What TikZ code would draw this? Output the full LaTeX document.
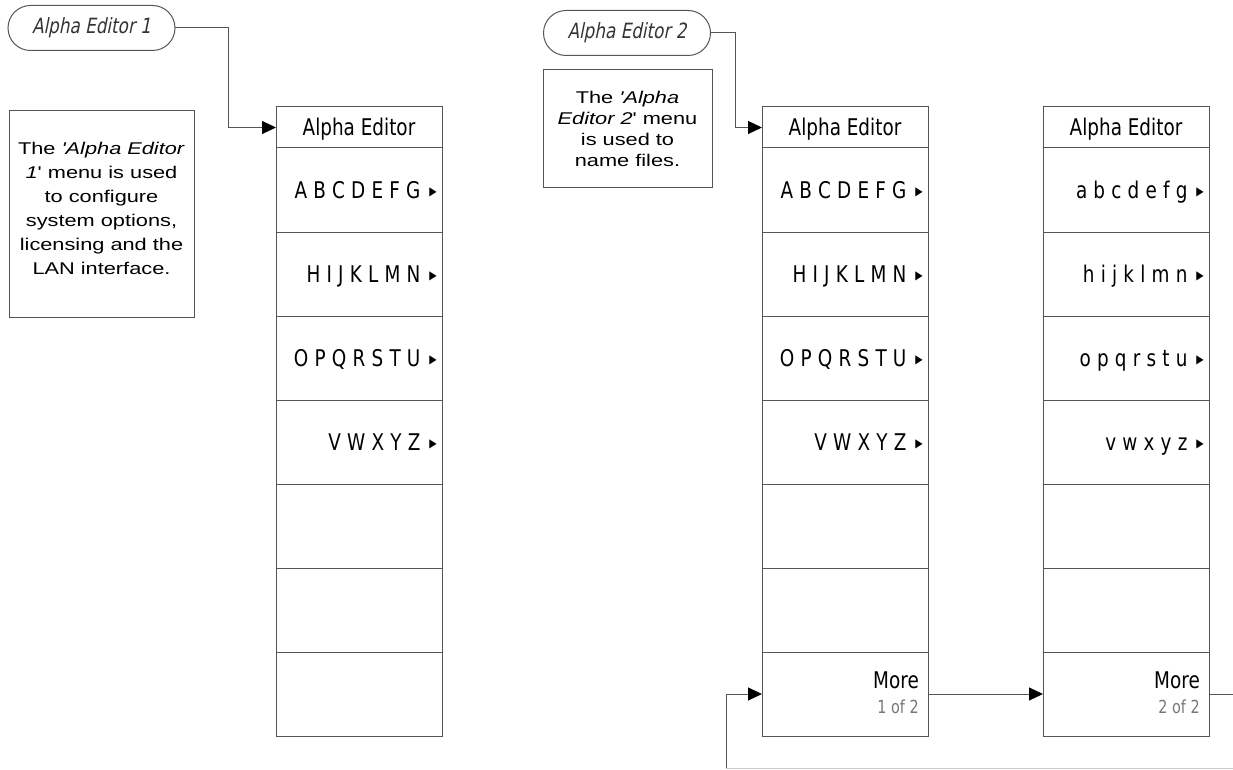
\documentclass[tikz,border=0pt]{standalone}
\usepackage{fontspec}
\setmainfont{Liberation Sans}
\newfontfamily\menufont{DejaVu Sans}[FakeStretch=0.8]
\newfontfamily\ovalfont{DejaVu Sans}[FakeStretch=0.8,FakeSlant=0.2]
\newfontfamily\boxfont{Liberation Sans}[FakeStretch=1.28]
\usetikzlibrary{arrows.meta}
\definecolor{ln}{HTML}{555555}
\definecolor{subtxt}{HTML}{777777}
\newcommand\mkmenu[2]{%
  \node[ttl] (#1t) at (#2,107) {};
  \foreach \i in {1,...,7} {\node[cell] (#1r\i) at (#2,{148+84*(\i-1)}) {};}
}
\newcommand\subtri{\hspace*{9pt}\raisebox{2.5pt}{\fontsize{12}{12}\selectfont ▶}}
\newcommand\lgap{\hspace*{6.2pt}}
\begin{document}
\begin{tikzpicture}[x=1pt,y=-1pt,
  cell/.style={draw=ln, line width=1pt, minimum width=166pt, minimum height=84pt, anchor=north west, inner sep=0pt, outer sep=0pt},
  ttl/.style={cell, minimum height=41pt},
  conn/.style={draw=ln, line width=1pt},
  arr/.style={conn, -{Triangle[length=14pt,width=13pt,color=black]}},
  ttltext/.style={font=\menufont\fontsize{23}{23}\selectfont, inner sep=0pt},
  itemtext/.style={font=\menufont\fontsize{23}{23}\selectfont, anchor=base east, inner sep=0pt},
  moretext/.style={font=\menufont\fontsize{23}{23}\selectfont, anchor=base east, inner sep=0pt},
  pagetext/.style={font=\menufont\fontsize{18}{18}\selectfont, text=subtxt, anchor=base east, inner sep=0pt},
  oval/.style={draw=ln, line width=1pt, rounded corners=22.5pt, minimum width=167pt, minimum height=45pt, inner sep=0pt, outer sep=0pt, font=\ovalfont\fontsize{21}{21}\selectfont, text=black!80},
  infobox/.style={draw=ln, line width=1pt, inner sep=0pt, outer sep=0pt, align=center}
]
\useasboundingbox (0,0) rectangle (1233,770);

% menus
\mkmenu{ma}{276}
\mkmenu{mb}{762}
\mkmenu{mc}{1043}

% titles
\node[ttltext] at ([yshift=-2pt]mat.center) {Alpha Editor};
\node[ttltext] at ([yshift=-2pt]mbt.center) {Alpha Editor};
\node[ttltext] at ([yshift=-2pt]mct.center) {Alpha Editor};

% menu 1 items
\node[itemtext] at ([xshift=-5pt,yshift=-8.4pt]mar1.east) {A\lgap B\lgap C\lgap D\lgap E\lgap F\lgap G\subtri};
\node[itemtext] at ([xshift=-5pt,yshift=-8.4pt]mar2.east) {H\lgap I\lgap J\lgap K\lgap L\lgap M\lgap N\subtri};
\node[itemtext] at ([xshift=-5pt,yshift=-8.4pt]mar3.east) {O\lgap P\lgap Q\lgap R\lgap S\lgap T\lgap U\subtri};
\node[itemtext] at ([xshift=-5pt,yshift=-8.4pt]mar4.east) {V\lgap W\lgap X\lgap Y\lgap Z\subtri};

% menu 2 items
\node[itemtext] at ([xshift=-5pt,yshift=-8.4pt]mbr1.east) {A\lgap B\lgap C\lgap D\lgap E\lgap F\lgap G\subtri};
\node[itemtext] at ([xshift=-5pt,yshift=-8.4pt]mbr2.east) {H\lgap I\lgap J\lgap K\lgap L\lgap M\lgap N\subtri};
\node[itemtext] at ([xshift=-5pt,yshift=-8.4pt]mbr3.east) {O\lgap P\lgap Q\lgap R\lgap S\lgap T\lgap U\subtri};
\node[itemtext] at ([xshift=-5pt,yshift=-8.4pt]mbr4.east) {V\lgap W\lgap X\lgap Y\lgap Z\subtri};
\node[moretext] at ([xshift=-9pt,yshift=6pt]mbr7.east) {More};
\node[pagetext] at ([xshift=-9pt,yshift=-19pt]mbr7.east) {1 of 2};

% menu 3 items
\node[itemtext] at ([xshift=-5pt,yshift=-8.4pt]mcr1.east) {a\lgap b\lgap c\lgap d\lgap e\lgap f\lgap g\subtri};
\node[itemtext] at ([xshift=-5pt,yshift=-8.4pt]mcr2.east) {h\lgap i\lgap j\lgap k\lgap l\lgap m\lgap n\subtri};
\node[itemtext] at ([xshift=-5pt,yshift=-8.4pt]mcr3.east) {o\lgap p\lgap q\lgap r\lgap s\lgap t\lgap u\subtri};
\node[itemtext] at ([xshift=-5pt,yshift=-8.4pt]mcr4.east) {v\lgap w\lgap x\lgap y\lgap z\subtri};
\node[moretext] at ([xshift=-9pt,yshift=6pt]mcr7.east) {More};
\node[pagetext] at ([xshift=-9pt,yshift=-19pt]mcr7.east) {2 of 2};

% ovals
\node[oval] (oa) at (91.5,28) {Alpha Editor 1};
\node[oval] (ob) at (627,33) {Alpha Editor 2};

% info boxes
\node[infobox, minimum width=185pt, minimum height=206pt] (ia) at (101.5,214) {};
\node[align=center, inner sep=0pt, font=\boxfont\fontsize{17}{24}\selectfont] (iat) at (101.5,208)
  {The \textit{'Alpha Editor}\\ \textit{1}' menu is used\\ to configure\\ system options,\\ licensing and the\\ LAN interface.};
\node[infobox, minimum width=169pt, minimum height=118pt] (ib) at (627.5,129) {};
\node[align=center, inner sep=0pt, font=\boxfont\fontsize{17}{21}\selectfont] (ibt) at (627.5,129)
  {The \textit{'Alpha}\\ \textit{Editor 2}' menu\\ is used to\\ name files.};

% connectors
\draw[arr] (oa.east) -- ++(53,0) |- (mat.west);
\draw[arr] (ob.east) -- ++(25,0) |- (mbt.west);
\draw[arr] (mbr7.east) -- (mcr7.west);
\coordinate (ra) at (1233,694);
\coordinate (rb) at (1233,768);
\coordinate (lb) at (726,768);
\draw[conn] (mcr7.east) -- (ra);
\draw[conn, draw=ln!30] (rb) -- (lb);
\draw[arr] (lb) |- (mbr7.west);
\end{tikzpicture}
\end{document}
